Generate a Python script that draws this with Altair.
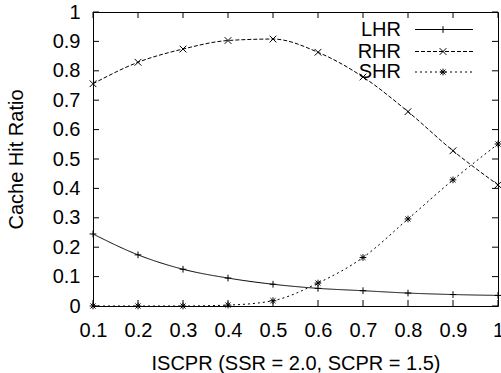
import altair as alt
import pandas as pd

iscpr = [0.1, 0.2, 0.3, 0.4, 0.5, 0.6, 0.7, 0.8, 0.9, 1.0]
lhr = [0.245, 0.174, 0.125, 0.095, 0.074, 0.060, 0.052, 0.044, 0.039, 0.036]
rhr = [0.756, 0.829, 0.874, 0.903, 0.908, 0.863, 0.779, 0.661, 0.528, 0.412]
shr = [0.0, 0.0, 0.0, 0.003, 0.018, 0.078, 0.165, 0.296, 0.429, 0.551]
series_names = ["LHR", "RHR", "SHR"]
x_ticks = [0.1, 0.2, 0.3, 0.4, 0.5, 0.6, 0.7, 0.8, 0.9, 1.0]
y_ticks = [0, 0.1, 0.2, 0.3, 0.4, 0.5, 0.6, 0.7, 0.8, 0.9, 1.0]

W, H = 405, 294
FONT = "Liberation Sans"
FS = 20
MS = 45

PLUS = "M-1,0L1,0M0,-1L0,1"
CROSS = "M-1,-1L1,1M-1,1L1,-1"
STAR = "M-1,0L1,0M0,-1L0,1M-0.75,-0.75L0.75,0.75M-0.75,0.75L0.75,-0.75"

styles = {
    "LHR": dict(dash=[1, 0], shape=PLUS),
    "RHR": dict(dash=[4, 2], shape=CROSS),
    "SHR": dict(dash=[2, 3], shape=STAR),
}
values = {"LHR": lhr, "RHR": rhr, "SHR": shr}

xs = alt.Scale(domain=[0.1, 1.0], nice=False, zero=False)
ys = alt.Scale(domain=[0, 1], nice=False)
x_axis = alt.Axis(values=x_ticks, format="~g", tickSize=0, domain=False, labelFlush=False,
                  labelOverlap=False, grid=False, labelPadding=14, titlePadding=13)
y_axis = alt.Axis(values=y_ticks, format="~g", tickSize=0, domain=False, labelFlush=False,
                  labelOverlap=False, grid=False, labelPadding=13, titlePadding=26)
X_TITLE = "ISCPR (SSR = 2.0, SCPR = 1.5)"
Y_TITLE = "Cache Hit Ratio"


def X(f):
    return alt.X(f, scale=xs, axis=x_axis, title=X_TITLE)


def Y(f):
    return alt.Y(f, scale=ys, axis=y_axis, title=Y_TITLE)


layers = []
for name in series_names:
    df = pd.DataFrame({"x": iscpr, "y": values[name]})
    base = alt.Chart(df)
    layers.append(base.mark_line(color="black", strokeWidth=1, strokeDash=styles[name]["dash"],
                                 interpolate="monotone").encode(x=X("x:Q"), y=Y("y:Q")))
    layers.append(base.mark_point(shape=styles[name]["shape"], size=MS, filled=False,
                                  color="black", strokeWidth=1, opacity=1).encode(x=X("x:Q"), y=Y("y:Q")))

# inner ticks (gnuplot style) on all sides
xt = alt.Chart(pd.DataFrame({"t": x_ticks}))
yt = alt.Chart(pd.DataFrame({"t": y_ticks}))
layers += [
    xt.mark_rule(color="black", strokeWidth=1).encode(x=X("t:Q"), y=alt.value(H), y2=alt.value(H - 6)),
    xt.mark_rule(color="black", strokeWidth=1).encode(x=X("t:Q"), y=alt.value(0), y2=alt.value(6)),
    yt.mark_rule(color="black", strokeWidth=1).encode(y=Y("t:Q"), x=alt.value(0), x2=alt.value(6)),
    yt.mark_rule(color="black", strokeWidth=1).encode(y=Y("t:Q"), x=alt.value(W), x2=alt.value(W - 6)),
]

# legend (top right, gnuplot style)
row_y = [17.5, 39.5, 60.0]
for name, ry in zip(series_names, row_y):
    ld = alt.Chart(pd.DataFrame({"name": [name]}))
    layers.append(ld.mark_text(align="right", baseline="middle", font=FONT, fontSize=FS, color="black")
                  .encode(text="name:N", x=alt.value(308), y=alt.value(ry)))
    layers.append(ld.mark_rule(color="black", strokeWidth=1, strokeDash=styles[name]["dash"])
                  .encode(x=alt.value(322), x2=alt.value(380), y=alt.value(ry)))
    layers.append(ld.mark_point(shape=styles[name]["shape"], size=MS, filled=False, color="black",
                                strokeWidth=1, opacity=1)
                  .encode(x=alt.value(350), y=alt.value(ry)))

chart = alt.layer(*layers).properties(
    width=W, height=H,
    autosize=alt.AutoSizeParams(type="none"),
    padding={"left": 93, "top": 12, "right": 3, "bottom": 67},
    background="white",
).configure_view(stroke="black", strokeWidth=1).configure_axis(
    labelFont=FONT, titleFont=FONT, labelFontSize=FS, titleFontSize=FS,
    labelColor="black", titleColor="black", titleFontWeight="normal",
)

chart.save("out.html", embed_options={"renderer": "svg", "actions": False})
